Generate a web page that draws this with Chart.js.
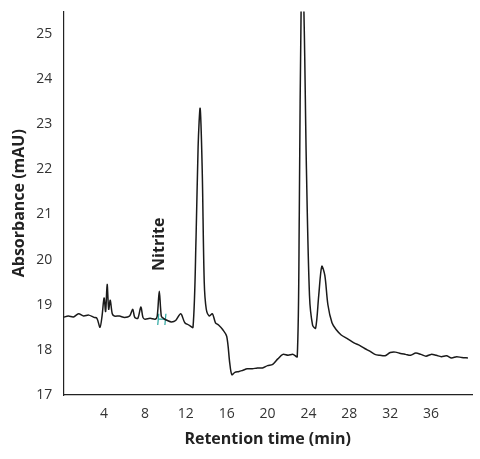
<!DOCTYPE html>
<html>
<head>
<script src="https://cdn.jsdelivr.net/npm/chart.js@4"></script>
<style>
body { margin: 0; background: #fff; }
#wrap { width: 480px; height: 459px; }
</style>
</head>
<body>
<div id="wrap"><canvas id="chrom"></canvas></div>
<script>
const timeMin = [0, 0.5, 1, 1.5, 2, 2.5, 3, 3.3, 3.6, 3.8, 4.0, 4.15, 4.3, 4.45, 4.6, 4.8, 5.0, 5.5, 6.0, 6.5, 6.8, 7.0, 7.3, 7.6, 7.8, 8.0, 8.5, 9.0, 9.2, 9.4, 9.6, 9.8, 10.2, 10.6, 11.0, 11.5, 11.9, 12.3, 12.7, 13.0, 13.2, 13.4, 13.6, 13.8, 14.0, 14.3, 14.6, 14.9, 15.2, 15.6, 16.0, 16.3, 16.5, 16.8, 17.2, 17.6, 18.0, 18.5, 19.0, 19.5, 20.0, 20.5, 21.0, 21.5, 22.0, 22.5, 22.9, 23.1, 23.3, 23.5, 23.8, 24.1, 24.4, 24.7, 25.0, 25.3, 25.6, 25.9, 26.3, 26.7, 27.2, 27.8, 28.5, 29.0, 29.5, 30.0, 30.5, 31.0, 31.5, 32.0, 32.5, 33.0, 33.5, 34.0, 34.5, 35.0, 35.5, 36.0, 36.5, 37.0, 37.5, 38.0, 38.5, 39.0, 39.6];
const absorbance = [18.72, 18.75, 18.73, 18.8, 18.75, 18.77, 18.72, 18.7, 18.5, 18.75, 19.15, 18.85, 19.45, 18.9, 19.1, 18.8, 18.75, 18.75, 18.72, 18.75, 18.9, 18.72, 18.7, 18.95, 18.72, 18.68, 18.7, 18.68, 18.75, 19.3, 18.75, 18.7, 18.65, 18.62, 18.65, 18.8, 18.6, 18.55, 18.5, 20.5, 22.5, 23.35, 22.0, 19.5, 18.9, 18.75, 18.8, 18.6, 18.55, 18.45, 18.3, 17.7, 17.45, 17.5, 17.52, 17.55, 17.58, 17.58, 17.6, 17.6, 17.65, 17.68, 17.8, 17.9, 17.88, 17.9, 17.85, 21.0, 26.0, 26.0, 22.0, 19.2, 18.55, 18.48, 19.2, 19.85, 19.65, 19.0, 18.6, 18.45, 18.33, 18.25, 18.15, 18.1, 18.03, 17.97, 17.9, 17.88, 17.87, 17.94, 17.95, 17.92, 17.9, 17.88, 17.93, 17.9, 17.86, 17.9, 17.88, 17.85, 17.87, 17.82, 17.85, 17.83, 17.82];
const markerLeft = [[9.25, 18.55], [9.35, 18.8]];
const markerRight = [[9.95, 18.55], [10.05, 18.8]];
const markerBar = [[9.3, 18.68], [10.0, 18.68]];
const xTicks = [4, 8, 12, 16, 20, 24, 28, 32, 36];
const yTicks = [17, 18, 19, 20, 21, 22, 23, 24, 25];

const trace = timeMin.map((t, i) => ({ x: t, y: absorbance[i] }));
const toPts = arr => arr.map(p => ({ x: p[0], y: p[1] }));
const tealLine = data => ({ data: toPts(data), borderColor: "#2aa6a0", borderWidth: 1.2, pointRadius: 0 });

const labelPlugin = {
    id: "nitriteLabel",
    afterDatasetsDraw(chart) {
        const ctx = chart.ctx;
        const x = chart.scales.x.getPixelForValue(9.4);
        const y = chart.scales.y.getPixelForValue(19.75);
        ctx.save();
        ctx.translate(x, y);
        ctx.rotate(-Math.PI / 2);
        ctx.font = "bold 16px 'Open Sans'";
        ctx.fillStyle = "#222";
        ctx.textBaseline = "middle";
        ctx.fillText("Nitrite", 0, 0);
        ctx.restore();
    }
};

new Chart(document.getElementById("chrom").getContext("2d"), {
    type: "line",
    data: {
        datasets: [
            { data: trace, borderColor: "#1a1a1a", borderWidth: 1.5, pointRadius: 0, tension: 0.3 },
            tealLine(markerLeft),
            tealLine(markerRight),
            tealLine(markerBar)
        ]
    },
    options: {
        responsive: true,
        maintainAspectRatio: false,
        animation: false,
        layout: { padding: { top: 10, right: 8, left: 6, bottom: 6 } },
        plugins: { legend: { display: false }, tooltip: { enabled: false } },
        scales: {
            x: {
                type: "linear",
                min: 0,
                max: 40,
                afterBuildTicks: axis => { axis.ticks = xTicks.map(v => ({ value: v })); },
                grid: { display: false, drawTicks: true },
                border: { color: "#222", width: 1.2 },
                ticks: { color: "#333", font: { size: 14, family: "'Open Sans'" } },
                title: { display: true, text: "Retention time (min)", color: "#222", font: { size: 16, weight: "bold", family: "'Open Sans'" } }
            },
            y: {
                min: 17,
                max: 25.5,
                afterBuildTicks: axis => { axis.ticks = yTicks.map(v => ({ value: v })); },
                grid: { display: false },
                border: { color: "#222", width: 1.2 },
                ticks: { color: "#333", font: { size: 14, family: "'Open Sans'" } },
                title: { display: true, text: "Absorbance (mAU)", color: "#222", font: { size: 16, weight: "bold", family: "'Open Sans'" } }
            }
        }
    },
    plugins: [labelPlugin]
});
</script>
</body>
</html>
